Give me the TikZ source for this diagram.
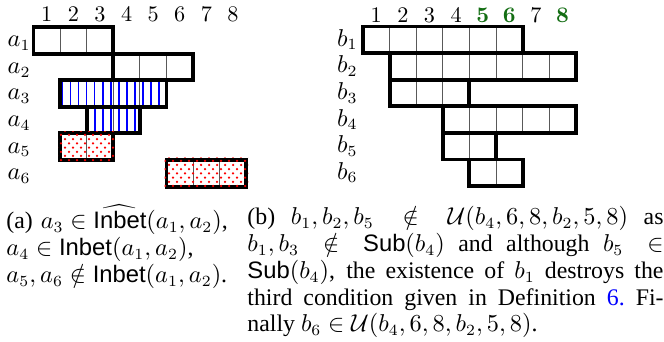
\documentclass[tikz,border=0pt]{standalone}
\usepackage[no-math]{fontspec}
\setmainfont{Liberation Serif}
\setsansfont{Liberation Sans}
\definecolor{dgreen}{RGB}{20,110,20}
\begin{document}
\begin{tikzpicture}[x=0.4494pt,y=-0.4494pt,
  thickbox/.style={line width=1.75pt,line join=miter},
  cellline/.style={line width=0.45pt,draw=gray!70!black},
  bluelines/.style={blue,line width=0.6pt},
  reddot/.style={red},
  collab/.style={inner sep=0pt,font=\fontsize{10}{12}\selectfont},
  rowlab/.style={inner sep=0pt,anchor=base east,font=\fontsize{10.6}{12}\selectfont},
  captext/.style={inner sep=0pt,anchor=base west,font=\fontsize{10.7}{12}\selectfont}]
\useasboundingbox (0,0) rectangle (664,342);
\def\cw{26.6}
% ---------- left grid ----------
\foreach \r/\f/\l in {1/1/3,2/4/6,3/2/5,4/3/4,5/2/3,6/6/8}{
  \foreach \c in {\f,...,\l}
    \draw[cellline] ({33.5+\cw*(\c-1)},{27+\cw*(\r-1)}) rectangle ++(\cw,\cw);
}
% blue vertical lines (a3, a4)
\foreach \k in {0,...,12}
  \draw[bluelines] ({62.7+8.03*\k},{27+2*\cw+2}) -- ({62.7+8.03*\k},{27+3*\cw-2});
\foreach \k in {0,...,5}
  \draw[bluelines] ({95+8.03*\k},{27+3*\cw+2}) -- ({95+8.03*\k},{27+4*\cw-2});
\foreach \r/\f/\l in {1/1/3,2/4/6,3/2/5,4/3/4,5/2/3,6/6/8}{
  \draw[thickbox] ({33.5+\cw*(\f-1)},{27+\cw*(\r-1)}) rectangle ({33.5+\cw*\l},{27+\cw*\r});
}
% red dots (a5, a6)
\begin{scope}
  \clip ({33.5+\cw-2},{27+4*\cw-2}) rectangle ({33.5+3*\cw+2},{27+5*\cw+2});
  \foreach \j in {0,...,8}
    \foreach \i in {0,...,8}
      \fill[reddot] ({57+8*\i+4*mod(\j,2)},{130.8+4.2*\j}) circle (1.25);
\end{scope}
\begin{scope}
  \clip ({33.5+5*\cw-2},{27+5*\cw-2}) rectangle ({33.5+8*\cw+2},{27+6*\cw+2});
  \foreach \j in {0,...,8}
    \foreach \i in {0,...,12}
      \fill[reddot] ({161+8*\i+4*mod(\j,2)},{156.6+4.2*\j}) circle (1.25);
\end{scope}
% column labels left
\foreach \c in {1,...,8}
  \node[collab] (la\c) at ({33.5+\cw*(\c-0.5)},14.5) {$\c$};
% row labels left
\foreach \r in {1,...,6}
  \node[rowlab] (ra\r) at (31,{27+\cw*(\r-0.5)+6.5}) {$a_{\r}$};
% ---------- right grid ----------
\foreach \r/\f/\l in {1/1/6,2/2/8,3/2/4,4/4/8,5/4/5,6/5/6}{
  \foreach \c in {\f,...,\l}
    \draw[cellline] ({363+\cw*(\c-1)},{26.5+\cw*(\r-1)}) rectangle ++(\cw,\cw);
}
\foreach \r/\f/\l in {1/1/6,2/2/8,3/2/4,4/4/8,5/4/5,6/5/6}{
  \draw[thickbox] ({363+\cw*(\f-1)},{26.5+\cw*(\r-1)}) rectangle ({363+\cw*\l},{26.5+\cw*\r});
}
\foreach \c in {1,2,3,4,7}
  \node[collab] (lb\c) at ({363+\cw*(\c-0.5)},15) {$\c$};
\foreach \c in {5,6,8}
  \node[collab,text=dgreen] (lb\c) at ({363+\cw*(\c-0.5)},15) {$\mathbf{\c}$};
\foreach \r in {1,...,6}
  \node[rowlab] (rb\r) at (358,{26.5+\cw*(\r-0.5)+6.5}) {$b_{\r}$};
% ---------- captions ----------
\node[captext,text width=112pt,align=left] (capa) at (6,229)
  {(a) $a_3\in\widehat{\textsf{Inbet}}(a_1,a_2)$,\\
   $a_4\in\textsf{Inbet}(a_1,a_2)$,\\
   $a_5,a_6\notin\textsf{Inbet}(a_1,a_2)$.};
\node[captext,text width=187pt,align=justify] (capb) at (247,225)
  {(b) $b_1,b_2,b_5\notin\mathcal{U}(b_4,6,8,b_2,5,8)$ as\linebreak
   $b_1,b_3\notin\textsf{Sub}(b_4)$ and although $b_5\in$\linebreak
   $\textsf{Sub}(b_4)$, the existence of $b_1$ destroys the\linebreak
   third condition given in Definition \textcolor{blue}{6.}\ Fi-\linebreak
   nally $b_6\in\mathcal{U}(b_4,6,8,b_2,5,8)$.};
\end{tikzpicture}
\end{document}
